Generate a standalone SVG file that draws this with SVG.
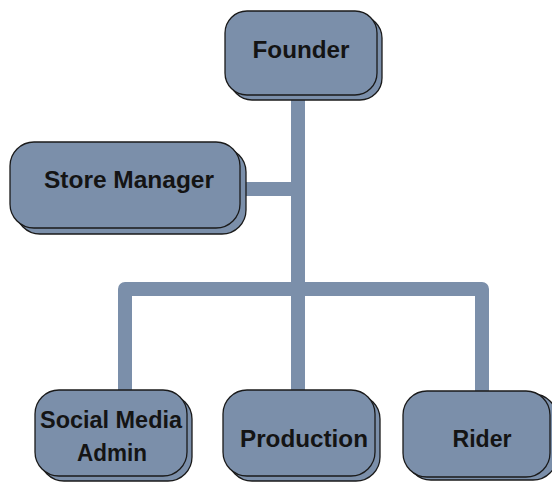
<svg xmlns="http://www.w3.org/2000/svg" width="552" height="484" viewBox="0 0 552 484">
<style>
.box{fill:#7b8faa;stroke:#1a1a1a;stroke-width:1.3}
.conn{fill:none;stroke:#7b8faa;stroke-width:14;stroke-linejoin:round}
.lbl{font-family:"Liberation Sans",Arial,sans-serif;font-weight:bold;font-size:23px;fill:#141414;text-anchor:middle}
</style>
<rect width="552" height="484" fill="#ffffff"/>
<g id="connectors">
<path class="conn" d="M298 95 V290"/>
<path class="conn" d="M240 189 H298"/>
<path class="conn" d="M125 392 V289 H482 V392"/>
<path class="conn" d="M298 289 V392"/>
</g>
<g id="founder">
<rect class="box" x="230" y="16" width="152" height="84" rx="22"/>
<rect class="box" x="225" y="11" width="152" height="84" rx="22"/>
<text class="lbl" x="301" y="58" textLength="97" lengthAdjust="spacingAndGlyphs">Founder</text>
</g>
<g id="store-manager">
<rect class="box" x="16" y="148" width="230" height="86" rx="24"/>
<rect class="box" x="10" y="142" width="230" height="86" rx="24"/>
<text class="lbl" x="129" y="188" textLength="170" lengthAdjust="spacingAndGlyphs">Store Manager</text>
</g>
<g id="social-media-admin">
<rect class="box" x="40" y="395" width="152" height="86" rx="24"/>
<rect class="box" x="35" y="390" width="152" height="86" rx="24"/>
<text class="lbl" x="111" y="428" textLength="142" lengthAdjust="spacingAndGlyphs">Social Media</text>
<text class="lbl" x="112" y="461" textLength="70" lengthAdjust="spacingAndGlyphs">Admin</text>
</g>
<g id="production">
<rect class="box" x="228" y="395" width="152" height="86" rx="24"/>
<rect class="box" x="223" y="390" width="152" height="86" rx="24"/>
<text class="lbl" x="304" y="447" textLength="128" lengthAdjust="spacingAndGlyphs">Production</text>
</g>
<g id="rider">
<rect class="box" x="407" y="394" width="150" height="86" rx="24"/>
<rect class="box" x="403" y="391" width="147" height="86" rx="24"/>
<text class="lbl" x="482" y="447" textLength="59" lengthAdjust="spacingAndGlyphs">Rider</text>
</g>
</svg>
